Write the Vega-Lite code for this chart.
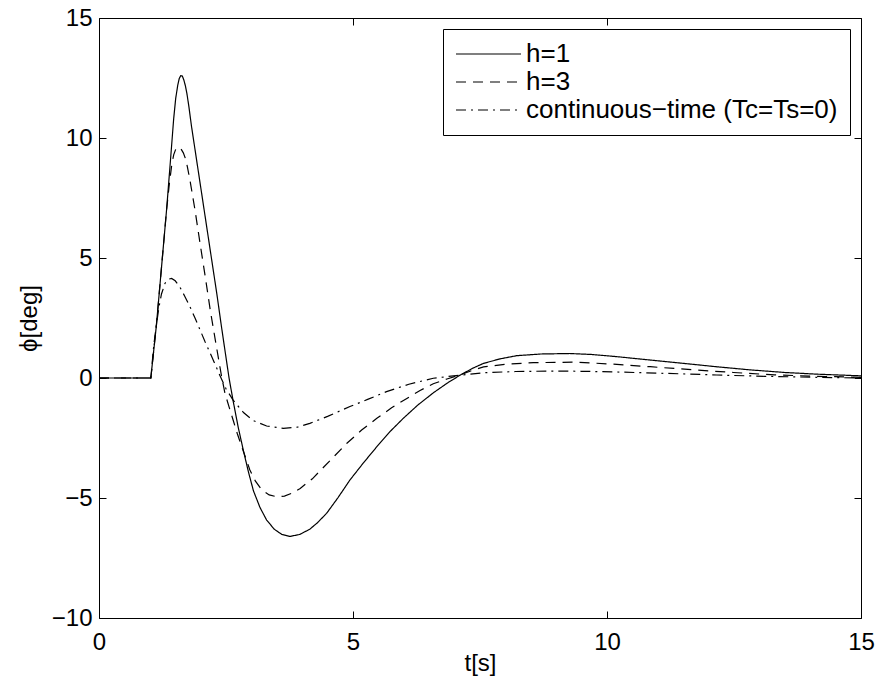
{
  "$schema": "https://vega.github.io/schema/vega-lite/v6.json",
  "width": 762,
  "height": 600,
  "autosize": {"type": "none"},
  "padding": {"left": 99, "top": 18, "right": 18, "bottom": 75},
  "background": "white",
  "config": {
    "font": "Liberation Sans",
    "view": {"stroke": "black", "strokeWidth": 1},
    "axis": {"grid": false, "domain": false, "tickColor": "black", "tickWidth": 1, "labelColor": "black", "titleColor": "black", "labelFontSize": 24, "titleFontSize": 24, "titleFontWeight": "normal", "labelFlush": false, "labelOverlap": false}
  },
  "data": {"values": [
    {"s":"h=1","t":0,"v":0},{"s":"h=1","t":1.02,"v":0},{"s":"h=1","t":1.13,"v":2.2},{"s":"h=1","t":1.23,"v":4.6},{"s":"h=1","t":1.33,"v":7.0},{"s":"h=1","t":1.43,"v":9.7},{"s":"h=1","t":1.47,"v":10.8},{"s":"h=1","t":1.51,"v":11.65},{"s":"h=1","t":1.55,"v":12.2},{"s":"h=1","t":1.58,"v":12.48},{"s":"h=1","t":1.61,"v":12.6},{"s":"h=1","t":1.64,"v":12.58},{"s":"h=1","t":1.67,"v":12.42},{"s":"h=1","t":1.70,"v":12.18},{"s":"h=1","t":1.73,"v":11.86},{"s":"h=1","t":1.77,"v":11.3},{"s":"h=1","t":1.82,"v":10.5},{"s":"h=1","t":1.92,"v":9.1},{"s":"h=1","t":2.02,"v":7.7},{"s":"h=1","t":2.12,"v":6.3},{"s":"h=1","t":2.22,"v":4.9},{"s":"h=1","t":2.32,"v":3.5},{"s":"h=1","t":2.41,"v":2.15},{"s":"h=1","t":2.49,"v":1.0},{"s":"h=1","t":2.56,"v":0},{"s":"h=1","t":2.64,"v":-0.95},{"s":"h=1","t":2.74,"v":-2.05},{"s":"h=1","t":2.84,"v":-3.0},{"s":"h=1","t":2.94,"v":-3.9},{"s":"h=1","t":3.04,"v":-4.7},{"s":"h=1","t":3.17,"v":-5.4},{"s":"h=1","t":3.3,"v":-5.92},{"s":"h=1","t":3.45,"v":-6.3},{"s":"h=1","t":3.6,"v":-6.52},{"s":"h=1","t":3.76,"v":-6.6},{"s":"h=1","t":3.95,"v":-6.52},{"s":"h=1","t":4.15,"v":-6.3},{"s":"h=1","t":4.3,"v":-6.03},{"s":"h=1","t":4.48,"v":-5.64},{"s":"h=1","t":4.7,"v":-5.0},{"s":"h=1","t":4.94,"v":-4.25},{"s":"h=1","t":5.2,"v":-3.55},{"s":"h=1","t":5.47,"v":-2.86},{"s":"h=1","t":5.73,"v":-2.23},{"s":"h=1","t":5.99,"v":-1.68},{"s":"h=1","t":6.28,"v":-1.12},{"s":"h=1","t":6.58,"v":-0.62},{"s":"h=1","t":6.85,"v":-0.22},{"s":"h=1","t":7.11,"v":0.12},{"s":"h=1","t":7.35,"v":0.4},{"s":"h=1","t":7.57,"v":0.61},{"s":"h=1","t":7.9,"v":0.8},{"s":"h=1","t":8.22,"v":0.93},{"s":"h=1","t":8.7,"v":1.0},{"s":"h=1","t":9.27,"v":1.02},{"s":"h=1","t":9.7,"v":0.98},{"s":"h=1","t":10.19,"v":0.89},{"s":"h=1","t":10.8,"v":0.76},{"s":"h=1","t":11.5,"v":0.61},{"s":"h=1","t":12.2,"v":0.46},{"s":"h=1","t":12.81,"v":0.34},{"s":"h=1","t":13.5,"v":0.23},{"s":"h=1","t":14.13,"v":0.16},{"s":"h=1","t":15,"v":0.09},
    {"s":"h=3","t":0,"v":0},{"s":"h=3","t":1.02,"v":0},{"s":"h=3","t":1.13,"v":2.2},{"s":"h=3","t":1.23,"v":4.6},{"s":"h=3","t":1.33,"v":7.0},{"s":"h=3","t":1.38,"v":8.0},{"s":"h=3","t":1.43,"v":8.85},{"s":"h=3","t":1.47,"v":9.3},{"s":"h=3","t":1.51,"v":9.53},{"s":"h=3","t":1.56,"v":9.62},{"s":"h=3","t":1.61,"v":9.56},{"s":"h=3","t":1.66,"v":9.38},{"s":"h=3","t":1.70,"v":9.15},{"s":"h=3","t":1.74,"v":8.8},{"s":"h=3","t":1.79,"v":8.25},{"s":"h=3","t":1.89,"v":7.0},{"s":"h=3","t":1.99,"v":5.6},{"s":"h=3","t":2.09,"v":4.24},{"s":"h=3","t":2.19,"v":2.83},{"s":"h=3","t":2.3,"v":1.45},{"s":"h=3","t":2.41,"v":0.1},{"s":"h=3","t":2.48,"v":-0.64},{"s":"h=3","t":2.56,"v":-1.2},{"s":"h=3","t":2.64,"v":-1.75},{"s":"h=3","t":2.72,"v":-2.3},{"s":"h=3","t":2.81,"v":-2.86},{"s":"h=3","t":2.97,"v":-3.83},{"s":"h=3","t":3.08,"v":-4.3},{"s":"h=3","t":3.2,"v":-4.65},{"s":"h=3","t":3.35,"v":-4.87},{"s":"h=3","t":3.5,"v":-4.95},{"s":"h=3","t":3.65,"v":-4.92},{"s":"h=3","t":3.8,"v":-4.8},{"s":"h=3","t":3.96,"v":-4.6},{"s":"h=3","t":4.2,"v":-4.2},{"s":"h=3","t":4.42,"v":-3.72},{"s":"h=3","t":4.65,"v":-3.22},{"s":"h=3","t":4.88,"v":-2.72},{"s":"h=3","t":5.17,"v":-2.17},{"s":"h=3","t":5.47,"v":-1.68},{"s":"h=3","t":5.76,"v":-1.24},{"s":"h=3","t":6.06,"v":-0.85},{"s":"h=3","t":6.32,"v":-0.52},{"s":"h=3","t":6.58,"v":-0.24},{"s":"h=3","t":6.85,"v":-0.04},{"s":"h=3","t":7.11,"v":0.13},{"s":"h=3","t":7.35,"v":0.32},{"s":"h=3","t":7.57,"v":0.46},{"s":"h=3","t":8.0,"v":0.57},{"s":"h=3","t":8.55,"v":0.64},{"s":"h=3","t":9.4,"v":0.66},{"s":"h=3","t":10.1,"v":0.58},{"s":"h=3","t":10.85,"v":0.47},{"s":"h=3","t":11.7,"v":0.34},{"s":"h=3","t":12.49,"v":0.23},{"s":"h=3","t":13.3,"v":0.13},{"s":"h=3","t":14.13,"v":0.07},{"s":"h=3","t":15,"v":0.03},
    {"s":"ct","t":0,"v":0},{"s":"ct","t":1.02,"v":0},{"s":"ct","t":1.08,"v":1.4},{"s":"ct","t":1.135,"v":2.28},{"s":"ct","t":1.18,"v":2.95},{"s":"ct","t":1.23,"v":3.5},{"s":"ct","t":1.3,"v":3.95},{"s":"ct","t":1.37,"v":4.12},{"s":"ct","t":1.43,"v":4.15},{"s":"ct","t":1.5,"v":4.05},{"s":"ct","t":1.59,"v":3.8},{"s":"ct","t":1.69,"v":3.4},{"s":"ct","t":1.79,"v":2.97},{"s":"ct","t":1.89,"v":2.5},{"s":"ct","t":1.99,"v":2.0},{"s":"ct","t":2.09,"v":1.5},{"s":"ct","t":2.19,"v":1.03},{"s":"ct","t":2.29,"v":0.55},{"s":"ct","t":2.38,"v":0.1},{"s":"ct","t":2.5,"v":-0.45},{"s":"ct","t":2.64,"v":-0.92},{"s":"ct","t":2.71,"v":-1.1},{"s":"ct","t":2.85,"v":-1.45},{"s":"ct","t":3.04,"v":-1.78},{"s":"ct","t":3.3,"v":-2.0},{"s":"ct","t":3.63,"v":-2.1},{"s":"ct","t":3.9,"v":-2.05},{"s":"ct","t":4.15,"v":-1.89},{"s":"ct","t":4.5,"v":-1.6},{"s":"ct","t":4.94,"v":-1.19},{"s":"ct","t":5.3,"v":-0.88},{"s":"ct","t":5.66,"v":-0.57},{"s":"ct","t":6.1,"v":-0.26},{"s":"ct","t":6.58,"v":-0.01},{"s":"ct","t":7.11,"v":0.12},{"s":"ct","t":7.57,"v":0.22},{"s":"ct","t":8.2,"v":0.27},{"s":"ct","t":8.88,"v":0.29},{"s":"ct","t":9.5,"v":0.28},{"s":"ct","t":10.19,"v":0.25},{"s":"ct","t":11.2,"v":0.19},{"s":"ct","t":12.16,"v":0.125},{"s":"ct","t":13.1,"v":0.07},{"s":"ct","t":14.13,"v":0.03},{"s":"ct","t":15,"v":0.0}
  ]},
  "transform": [
    {"calculate": "datum.s === 'ct' ? 'continuous−time (Tc=Ts=0)' : datum.s", "as": "series"}
  ],
  "layer": [
    {
      "mark": {"type": "line", "color": "black", "strokeWidth": 1.2},
      "encoding": {
        "x": {"field": "t", "type": "quantitative", "scale": {"domain": [0, 15], "nice": false, "zero": false},
              "axis": {"values": [0, 5, 10, 15], "title": "t[s]", "tickSize": -7, "labelPadding": 19, "titlePadding": -3}},
        "y": {"field": "v", "type": "quantitative", "scale": {"domain": [-10, 15], "nice": false, "zero": false},
              "axis": {"values": [-10, -5, 0, 5, 10, 15], "title": "ϕ[deg]", "tickSize": -7, "labelPadding": 14, "titlePadding": 10}},
        "strokeDash": {"field": "series", "type": "nominal", "sort": null,
          "scale": {"domain": ["h=1", "h=3", "continuous−time (Tc=Ts=0)"], "range": [[1, 0], [10, 7], [10, 5, 2, 5]]},
          "legend": {"title": null, "orient": "top-right", "offset": 11, "symbolType": "stroke", "symbolSize": 4225,
                     "symbolStrokeWidth": 1.2, "symbolStrokeColor": "black", "labelFontSize": 26, "labelLimit": 600,
                     "labelOffset": 4, "labelColor": "black", "padding": 12, "rowPadding": 2, "clipHeight": 26,
                     "strokeColor": "black", "fillColor": "white", "cornerRadius": 0}}
      }
    },
    {
      "mark": {"type": "point", "opacity": 0},
      "encoding": {
        "x": {"field": "t", "type": "quantitative", "scale": {"domain": [0, 15], "nice": false, "zero": false},
              "axis": {"orient": "top", "values": [0, 5, 10, 15], "labels": false, "title": null, "tickSize": -7}},
        "y": {"field": "v", "type": "quantitative", "scale": {"domain": [-10, 15], "nice": false, "zero": false},
              "axis": {"orient": "right", "values": [-10, -5, 0, 5, 10, 15], "labels": false, "title": null, "tickSize": -7}}
      }
    }
  ],
  "resolve": {"axis": {"x": "independent", "y": "independent"}}
}
